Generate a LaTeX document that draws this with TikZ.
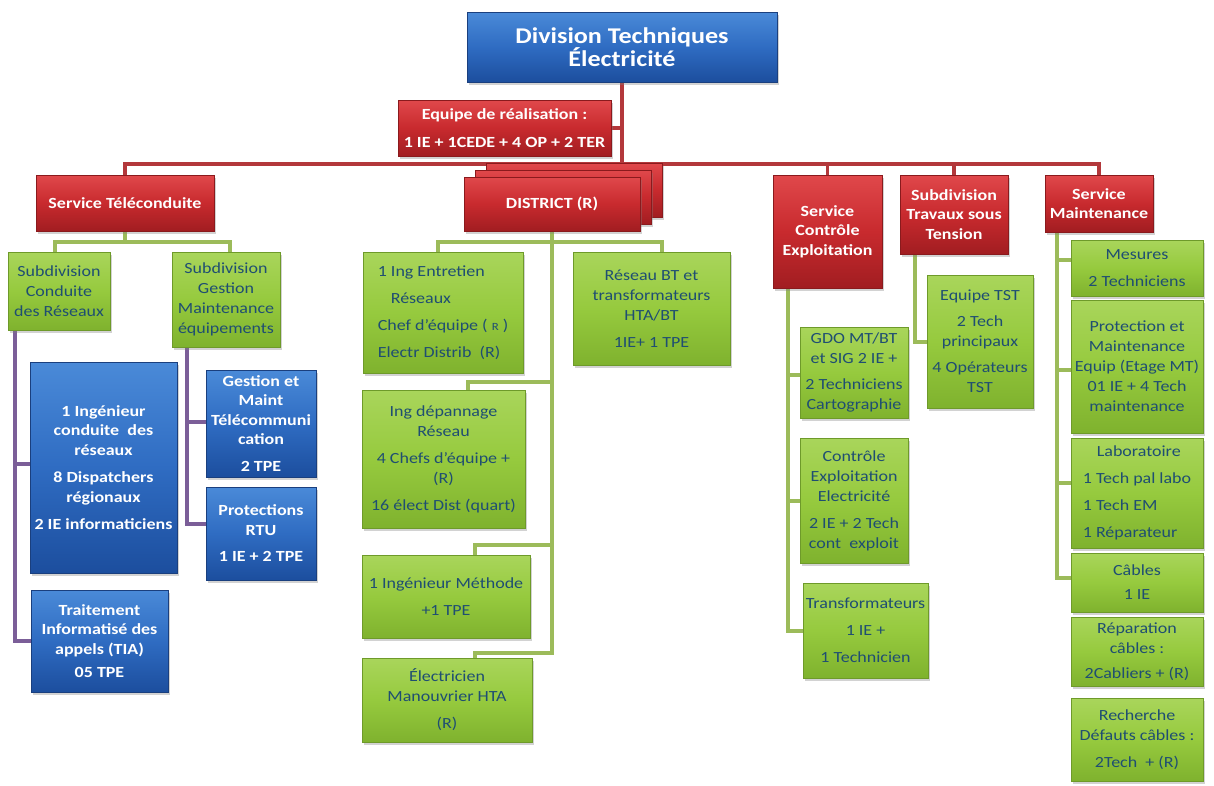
\documentclass[tikz,border=0pt]{standalone}
\usepackage{fontspec}
\setmainfont{Carlito}[FakeStretch=1.16]
\usetikzlibrary{shadows,calc,backgrounds}
\definecolor{bluT}{HTML}{4A8AD8}
\definecolor{bluM}{HTML}{2F6CC2}
\definecolor{bluB}{HTML}{1C4E9E}
\definecolor{bluD}{HTML}{1A3F7E}
\definecolor{redT}{HTML}{E0484B}
\definecolor{redM}{HTML}{C82A2E}
\definecolor{redB}{HTML}{A11D21}
\definecolor{redD}{HTML}{8A1A1D}
\definecolor{grnT}{HTML}{A9D55B}
\definecolor{grnM}{HTML}{96CA3E}
\definecolor{grnB}{HTML}{7FB22E}
\definecolor{grnD}{HTML}{6E9A2A}
\definecolor{txtB}{HTML}{1F4E72}
\definecolor{busR}{HTML}{B3383B}
\definecolor{lnG}{HTML}{9CBB5A}
\definecolor{lnP}{HTML}{7B5E98}
\tikzset{
 boxbase/.style={rectangle, inner sep=0pt, align=center, line width=0.6pt,
   drop shadow={opacity=0.35, shadow xshift=2pt, shadow yshift=-2.5pt}},
 bluebox/.style={boxbase, top color=bluT, bottom color=bluB, middle color=bluM, draw=bluD,
   text=white, font=\bfseries\fontsize{15.5}{19.5}\selectfont},
 redbox/.style={boxbase, top color=redT, bottom color=redB, middle color=redM, draw=redD,
   text=white, font=\bfseries\fontsize{15.5}{19.5}\selectfont},
 greenbox/.style={boxbase, top color=grnT, bottom color=grnB, middle color=grnM, draw=grnD,
   text=txtB, font=\fontsize{15.5}{20}\selectfont},
 busline/.style={draw=busR, line width=3.5pt},
 gline/.style={draw=lnG, line width=4pt},
 pline/.style={draw=lnP, line width=4pt},
}
\begin{document}
\begin{tikzpicture}[x=1pt,y=-1pt]
\useasboundingbox (0,0) rectangle (1214,785);
% top level
\node[bluebox, font=\bfseries\fontsize{22.5}{23}\selectfont, minimum width=310pt, minimum height=70pt] (top) at (622,47) {Division Techniques\\Électricité};
\node[redbox, font=\bfseries\fontsize{15.5}{28}\selectfont, minimum width=213pt, minimum height=56pt] (equipe) at (504.5,128) {Equipe de réalisation :\\1 IE + 1CEDE + 4 OP + 2 TER};
% services
\node[redbox, minimum width=178pt, minimum height=56pt] (tele) at (125,203) {Service Téléconduite};
\node[redbox, minimum width=176pt, minimum height=54pt] (d3) at (574,190) {};
\node[redbox, minimum width=176pt, minimum height=54pt] (d2) at (563,197) {};
\node[redbox, minimum width=176pt, minimum height=54pt] (dist) at (552,204) {DISTRICT (R)};
\node[redbox, minimum width=109pt, minimum height=113pt] (sce) at (827.5,231.5) {Service\\Contrôle\\Exploitation};
\node[redbox, minimum width=108pt, minimum height=79pt] (tst) at (954,214.5) {Subdivision\\Travaux sous\\Tension};
\node[redbox, minimum width=108pt, minimum height=57pt] (sm) at (1099,203.5) {Service\\Maintenance};
% Teleconduite
\node[greenbox, minimum width=102pt, minimum height=78pt] (sdc) at (59,291) {Subdivision\\Conduite\\des Réseaux};
\node[greenbox, minimum width=108pt, minimum height=95pt] (sdg) at (226,299.5) {Subdivision\\Gestion\\Maintenance\\équipements};
\node[bluebox, minimum width=147pt, minimum height=211pt] (ing) at (103.5,467.5) {1 Ingénieur\\conduite~ des\\réseaux\\[8pt]8 Dispatchers\\régionaux\\[8pt]2 IE informaticiens};
\node[bluebox, minimum width=137pt, minimum height=102pt] (tia) at (99.5,641) {Traitement\\Informatisé des\\appels (TIA)\\[4pt]05 TPE};
\node[bluebox, minimum width=110pt, minimum height=107pt] (gm) at (261,423.5) {Gestion et\\Maint\\Télécommuni\\cation\\[7pt]2 TPE};
\node[bluebox, minimum width=110pt, minimum height=93pt] (rtu) at (261,533.5) {Protections\\RTU\\[7pt]1 IE + 2 TPE};
% District
\node[greenbox, align=left, font=\fontsize{15.5}{27}\selectfont, minimum width=160pt, minimum height=121pt] (ent) at (443,312.5) {1 Ing Entretien\\\hspace*{13pt}Réseaux\\Chef d’équipe ( {\fontsize{11}{11}\selectfont R} )\\Electr Distrib~ (R)};
\node[greenbox, minimum width=157pt, minimum height=113pt] (rbt) at (651.5,308.5) {Réseau BT et\\transformateurs\\HTA/BT\\[7pt]1IE+ 1 TPE};
\node[greenbox, minimum width=163pt, minimum height=138pt] (dep) at (443.5,459) {Ing dépannage\\Réseau\\[7pt]4 Chefs d’équipe +\\(R)\\[7pt]16 élect Dist (quart)};
\node[greenbox, minimum width=168pt, minimum height=83pt] (met) at (446,596.5) {1 Ingénieur Méthode\\[7pt]+1 TPE};
\node[greenbox, minimum width=170pt, minimum height=84pt] (ele) at (447,700) {Électricien\\Manouvrier HTA\\[7pt](R)};
% Controle exploitation
\node[greenbox, minimum width=108pt, minimum height=91pt] (gdo) at (854,372.5) {GDO MT/BT\\et SIG 2 IE +\\[6pt]2 Techniciens\\Cartographie};
\node[greenbox, minimum width=108pt, minimum height=125pt] (cee) at (854,500.5) {Contrôle\\Exploitation\\Electricité\\[7pt]2 IE + 2 Tech\\cont~ exploit};
\node[greenbox, minimum width=125pt, minimum height=95pt] (tra) at (865.5,630.5) {Transformateurs\\[7pt]1 IE +\\[7pt]1 Technicien};
% TST
\node[greenbox, minimum width=106pt, minimum height=133pt] (eqt) at (980,341.5) {Equipe TST\\[6pt]2 Tech\\principaux\\[6pt]4 Opérateurs\\TST};
% Maintenance
\node[greenbox, minimum width=132pt, minimum height=56pt] (mes) at (1137,268) {Mesures\\[7pt]2 Techniciens};
\node[greenbox, minimum width=132pt, minimum height=133pt] (prot) at (1137,366.5) {Protection et\\Maintenance\\Equip (Etage MT)\\01 IE + 4 Tech\\maintenance};
\node[greenbox, align=left, font=\fontsize{15.5}{27}\selectfont, minimum width=132pt, minimum height=110pt] (lab) at (1137,493) {\hspace*{14pt}Laboratoire\\1 Tech pal labo\\1 Tech EM\\1 Réparateur};
\node[greenbox, minimum width=132pt, minimum height=59pt] (cab) at (1137,582.5) {Câbles\\[4pt]1 IE};
\node[greenbox, minimum width=132pt, minimum height=69pt] (rep) at (1137,651.5) {Réparation\\câbles :\\[5pt]2Cabliers + (R)};
\node[greenbox, minimum width=132pt, minimum height=83pt] (rec) at (1137,739.5) {Recherche\\Défauts câbles :\\[7pt]2Tech~ + (R)};
% connectors
\begin{scope}[on background layer]
\fill[white] (0,0) rectangle (1214,785);
\coordinate (bus) at (622,164);
\draw[busline] (top.south) -- (bus);
\draw[busline] (equipe.east) -- (equipe.east -| bus);
\draw[busline] (tele.north) |- (bus) -| (sm.north);
\draw[busline] (dist.north) -- (dist.north |- bus);
\draw[busline] (sce.north) -- (sce.north |- bus);
\draw[busline] (tst.north) -- (tst.north |- bus);
\draw[gline] (tele.south) -- ++(0,11) -| ([xshift=-4pt]sdc.north);
\draw[gline] (tele.south) -- ++(0,11) -| ([xshift=4pt]sdg.north);
\draw[pline] ([xshift=-44pt]sdc.south) |- ([yshift=4pt]ing.west);
\draw[pline] ([xshift=-44pt]sdc.south) |- (tia.west);
\draw[pline] ([xshift=-39pt]sdg.south) |- ([yshift=2pt]gm.west);
\draw[pline] ([xshift=-39pt]sdg.south) |- ([yshift=10pt]rtu.west);
\draw[gline] (dist.south) -- ++(0,11) -| ([xshift=-5pt]ent.north);
\draw[gline] (dist.south) -- ++(0,11) -| ([xshift=10pt]rbt.north);
\draw[gline] (dist.south) |- ($(dep.north)+(24,-8)$) -- ([xshift=24pt]dep.north);
\draw[gline] (dist.south) |- ($(met.north)+(29,-10)$) -- ([xshift=29pt]met.north);
\draw[gline] (dist.south) |- ($(ele.north)+(28,-5)$) -- ([xshift=28pt]ele.north);
\draw[gline] ([xshift=-39.5pt]sce.south) |- ([yshift=-2pt]gdo.west);
\draw[gline] ([xshift=-39.5pt]sce.south) |- (cee.west);
\draw[gline] ([xshift=-39.5pt]sce.south) |- (tra.west);
\draw[gline] ([xshift=-39pt]tst.south) |- (eqt.west);
\draw[gline] ([xshift=-42pt]sm.south) |- ([yshift=8pt]mes.west);
\draw[gline] ([xshift=-42pt]sm.south) |- ([yshift=-3pt]prot.west);
\draw[gline] ([xshift=-42pt]sm.south) |- ([yshift=10pt]lab.west);
\draw[gline] ([xshift=-42pt]sm.south) |- ([yshift=5pt]cab.west);
\end{scope}
\end{tikzpicture}
\end{document}
